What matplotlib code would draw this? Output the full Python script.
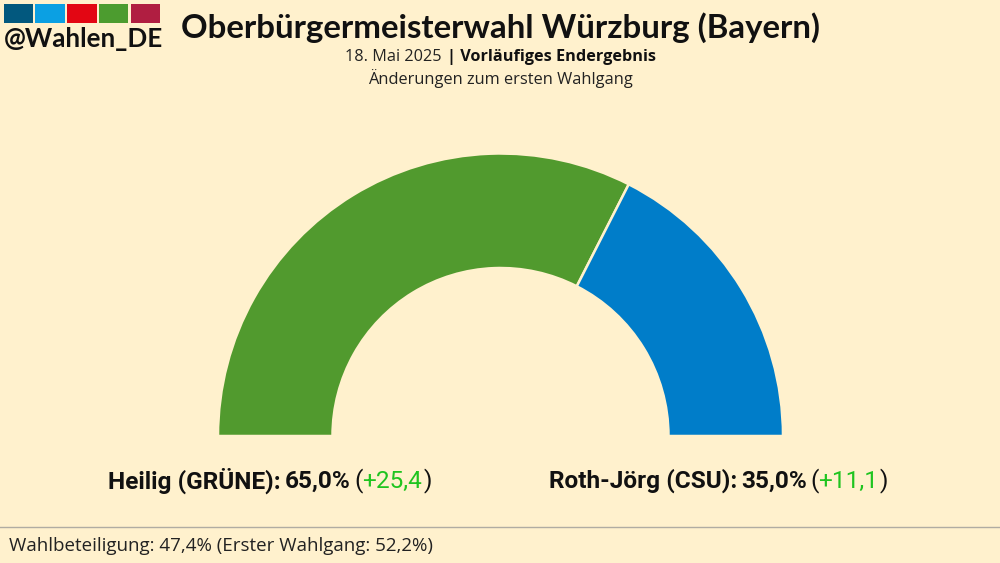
#!/usr/bin/python
"""
OB-Stichwahl Wuerzburg als Halbkreis
"""
import numpy as np
import matplotlib.pyplot as plt

BG = '#FFF1CD'
candidates = ['Heilig (GRÜNE):', 'Roth-Jörg (CSU):']
shares = [65.0, 35.0]
changes = ['+25,4', '+11,1']
share_colors = ['#519A2E', '#007DC9']
logo_colors = ['#02587E', '#0BA0E3', '#E30613', '#4C9C2F', '#B01E41']


def de(v):
    return '{:.1f}%'.format(v).replace('.', ',')


def main():
    fig = plt.figure(figsize=(10, 5.63), dpi=100, facecolor=BG)
    ax = fig.add_axes([0, 0, 1, 1])

    ax.pie(np.array(shares) / 200, normalize=False, colors=share_colors,
           startangle=180, counterclock=False, center=(500.5, 127), radius=282.5,
           wedgeprops={'width': 114.5, 'edgecolor': BG, 'linewidth': 1.8})
    ax.set_xlim(0, 1000)
    ax.set_ylim(0, 563)
    ax.axis('off')

    # logo
    for i, c in enumerate(logo_colors):
        ax.bar(18.5 + 31.7 * i, 19, width=29.5, bottom=540, color=c)
    ax.text(4, 524, '@Wahlen_DE', family='Lato', weight='bold',
            fontsize=18.7, color='#111111', va='center')

    ax.text(500.5, 535, 'Oberbürgermeisterwahl Würzburg (Bayern)', family='Lato', weight='bold',
            fontsize=23.8, color='#111111', ha='center', va='center')

    ax.text(345, 506, '18. Mai 2025', family='Open Sans', fontsize=11.7, color='#222222', va='center')
    ax.text(447, 506, '| Vorläufiges Endergebnis', family='Open Sans', weight='bold', fontsize=11.7,
            color='#111111', va='center')
    ax.text(500.5, 484, 'Änderungen zum ersten Wahlgang', family='Open Sans', fontsize=11.8,
            color='#222222', ha='center', va='center')

    # kandidaten
    name_x = [108, 549]
    share_x = [285, 741]
    paren_x = [354, 810]
    for i in range(len(candidates)):
        ax.text(name_x[i], 82, candidates[i], family='Roboto', weight='bold', fontsize=17.6, color='#111111', va='center')
        ax.text(share_x[i], 82, de(shares[i]), family='Roboto', weight='bold', fontsize=17.6, color='#111111', va='center')
        ax.text(paren_x[i], 82, '(', family='Roboto', fontsize=17.6, color='#111111', va='center')
        ax.text(paren_x[i] + 8, 82, changes[i], family='Roboto', fontsize=17.6, color='#1FC41F', va='center')
        ax.text(paren_x[i] + 70, 82, ')', family='Roboto', fontsize=17.6, color='#111111', va='center')

    ax.axhline(36, color='#B0ACA2', lw=1)
    ax.text(9, 17, 'Wahlbeteiligung: 47,4% (Erster Wahlgang: 52,2%)', family='Open Sans', fontsize=13.5,
            color='#222222', va='center')

    fig.savefig('out.png', facecolor=BG)


if __name__ == '__main__':
    main()
